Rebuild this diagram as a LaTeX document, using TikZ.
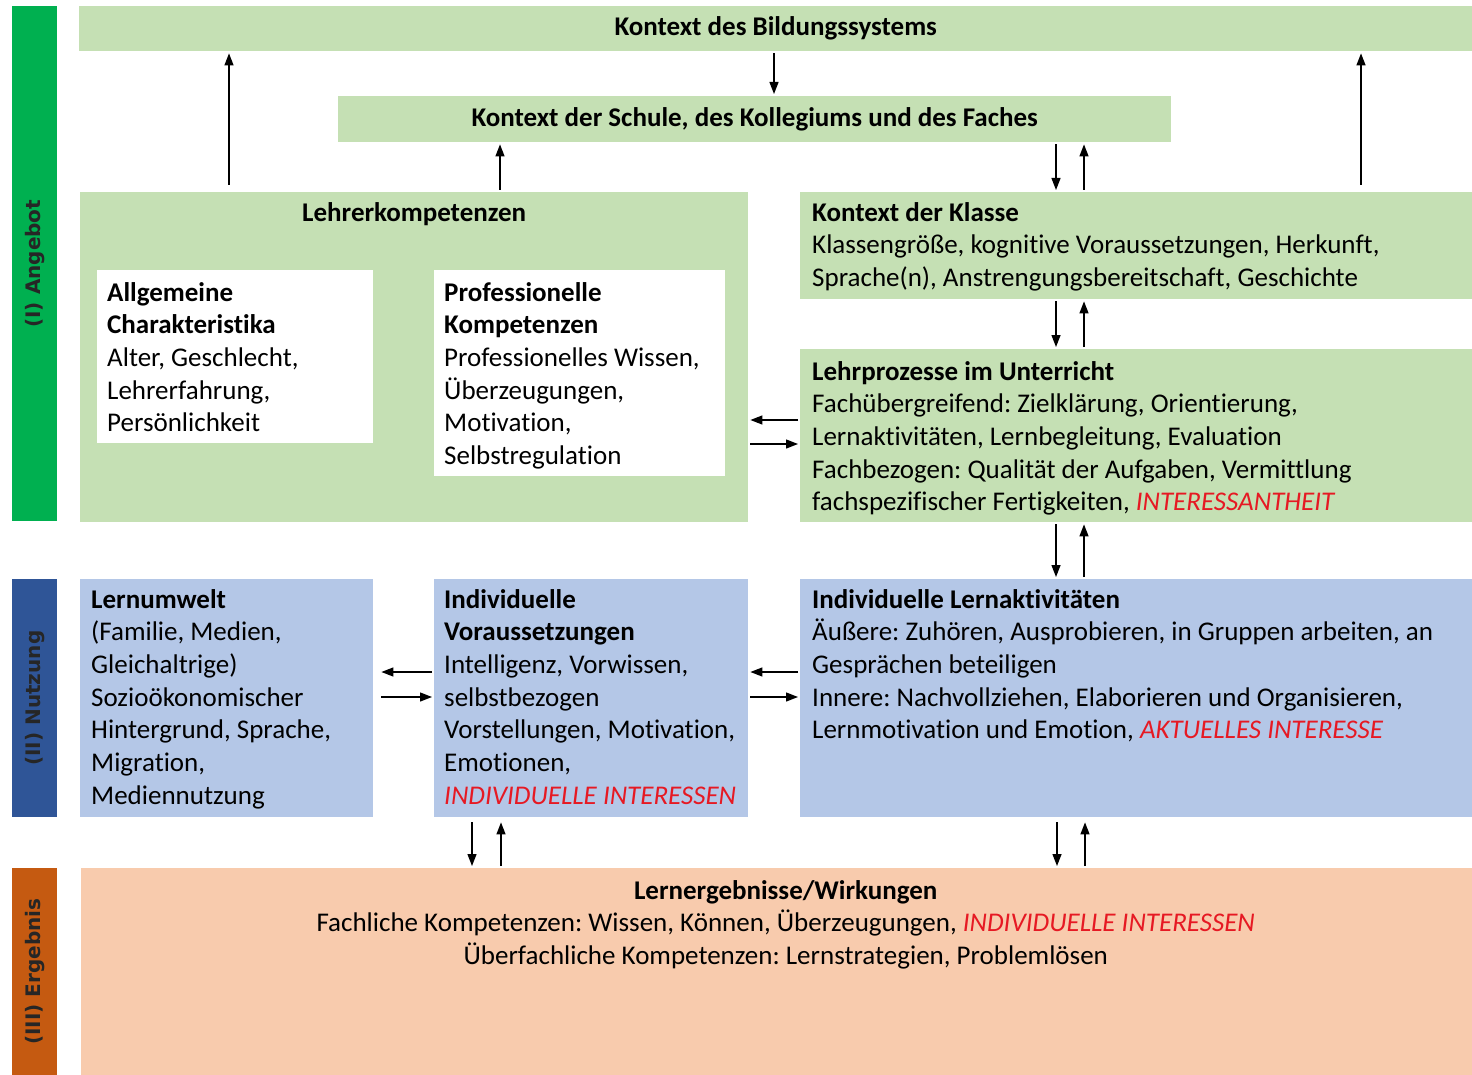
\documentclass[tikz,border=0pt]{standalone}
\usepackage{fontspec}
\setmainfont{Carlito}[Ligatures=NoCommon]
\newfontfamily\sidefont{DejaVu Sans}
\usetikzlibrary{arrows.meta}
\definecolor{lightgreen}{RGB}{197,224,180}
\definecolor{lightblue}{RGB}{180,199,231}
\definecolor{lightpeach}{RGB}{248,203,173}
\definecolor{bargreen}{RGB}{0,176,80}
\definecolor{barblue}{RGB}{47,85,151}
\definecolor{barorange}{RGB}{197,90,17}
\definecolor{accentred}{RGB}{230,25,35}
\newcommand{\redit}[1]{\textcolor{accentred}{\itshape #1}}
\frenchspacing
\tikzset{
    panel/.style={inner sep=0pt, anchor=north west},
    greenpanel/.style={panel, fill=lightgreen},
    bluepanel/.style={panel, fill=lightblue},
    peachpanel/.style={panel, fill=lightpeach},
    whitepanel/.style={panel, fill=white},
    sidebar/.style={panel, minimum width=45pt},
    sidelabel/.style={rotate=90, inner sep=0pt, text=black!85,
        font=\sidefont\bfseries\fontsize{20}{24}\selectfont},
    boxtext/.style={inner sep=0pt, anchor=north west, align=left,
        font=\fontsize{27}{32.7}\selectfont},
    arr/.style={-{Triangle[length=12pt,width=9pt]}, line width=1.3pt,
        shorten >=2pt, shorten <=2pt}
}

\begin{document}
\begin{tikzpicture}[x=1pt, y=-1pt]
    \useasboundingbox[fill=white] (0,0) rectangle (1472,1075);

    % side bars
    \node[sidebar, fill=bargreen, minimum height=515pt] (ANGEBOT) at (12,6) {};
    \node[sidebar, fill=barblue, minimum height=238pt] (NUTZUNG) at (12,579) {};
    \node[sidebar, fill=barorange, minimum height=207pt] (ERGEBNIS) at (12,868) {};
    \node[sidelabel] (ANGEBOTL) at (ANGEBOT.center) {(I) Angebot};
    \node[sidelabel] (NUTZUNGL) at (NUTZUNG.center) {(II) Nutzung};
    \node[sidelabel] (ERGEBNISL) at (ERGEBNIS.center) {(III) Ergebnis};

    % context boxes
    \node[greenpanel, minimum width=1393pt, minimum height=45pt,
        font=\bfseries\fontsize{27}{32.7}\selectfont] (BILDUNG) at (79,6)
        {Kontext des Bildungssystems};
    \node[greenpanel, minimum width=833pt, minimum height=46pt,
        font=\bfseries\fontsize{27}{32.7}\selectfont] (SCHULE) at (338,96)
        {Kontext der Schule, des Kollegiums und des Faches};

    % Angebot
    \node[greenpanel, minimum width=668pt, minimum height=330pt] (LEHRER) at (80,192) {};
    \node[boxtext, anchor=north, font=\bfseries\fontsize{27}{32.7}\selectfont]
        (LEHRERT) at ([yshift=-10pt]LEHRER.north) {Lehrerkompetenzen};
    \node[whitepanel, minimum width=276pt, minimum height=173pt] (ALLG) at (97,270) {};
    \node[boxtext] (ALLGT) at ([shift={(10pt,-12pt)}]ALLG.north west)
        {\textbf{Allgemeine}\\\textbf{Charakteristika}\\Alter, Geschlecht,\\Lehrerfahrung,\\Persönlichkeit};
    \node[whitepanel, minimum width=291pt, minimum height=206pt] (PROF) at (434,270) {};
    \node[boxtext] (PROFT) at ([shift={(10pt,-12pt)}]PROF.north west)
        {\textbf{Professionelle}\\\textbf{Kompetenzen}\\Professionelles Wissen,\\Überzeugungen,\\Motivation,\\Selbstregulation};
    \node[greenpanel, minimum width=672pt, minimum height=107pt] (KLASSE) at (800,192) {};
    \node[boxtext] (KLASSET) at ([shift={(12pt,-10pt)}]KLASSE.north west)
        {\textbf{Kontext der Klasse}\\Klassengröße, kognitive Voraussetzungen, Herkunft,\\Sprache(n), Anstrengungsbereitschaft, Geschichte};
    \node[greenpanel, minimum width=672pt, minimum height=173pt] (LEHRPROZ) at (800,349) {};
    \node[boxtext] (LEHRPROZT) at ([shift={(12pt,-12pt)}]LEHRPROZ.north west)
        {\textbf{Lehrprozesse im Unterricht}\\Fachübergreifend: Zielklärung, Orientierung,\\Lernaktivitäten, Lernbegleitung, Evaluation\\Fachbezogen: Qualität der Aufgaben, Vermittlung\\fachspezifischer Fertigkeiten, \redit{INTERESSANTHEIT}};

    % Nutzung
    \node[bluepanel, minimum width=293pt, minimum height=238pt] (UMWELT) at (80,579) {};
    \node[boxtext] (UMWELTT) at ([shift={(11pt,-10pt)}]UMWELT.north west)
        {\textbf{Lernumwelt}\\(Familie, Medien,\\Gleichaltrige)\\Sozioökonomischer\\Hintergrund, Sprache,\\Migration,\\Mediennutzung};
    \node[bluepanel, minimum width=314pt, minimum height=238pt] (VORAUS) at (434,579) {};
    \node[boxtext] (VORAUST) at ([shift={(10pt,-10pt)}]VORAUS.north west)
        {\textbf{Individuelle}\\\textbf{Voraussetzungen}\\Intelligenz, Vorwissen,\\selbstbezogen\\Vorstellungen, Motivation,\\Emotionen,\\\redit{INDIVIDUELLE INTERESSEN}};
    \node[bluepanel, minimum width=672pt, minimum height=238pt] (LERNAKT) at (800,579) {};
    \node[boxtext] (LERNAKTT) at ([shift={(12pt,-10pt)}]LERNAKT.north west)
        {\textbf{Individuelle Lernaktivitäten}\\Äußere: Zuhören, Ausprobieren, in Gruppen arbeiten, an\\Gesprächen beteiligen\\Innere: Nachvollziehen, Elaborieren und Organisieren,\\Lernmotivation und Emotion, \redit{AKTUELLES INTERESSE}};

    % Ergebnis
    \node[peachpanel, minimum width=1391pt, minimum height=207pt] (WIRKUNG) at (81,868) {};
    \node[boxtext, anchor=north, align=center] (WIRKUNGT) at ([shift={(9pt,-12pt)}]WIRKUNG.north)
        {\textbf{Lernergebnisse/Wirkungen}\\Fachliche Kompetenzen: Wissen, Können, Überzeugungen, \redit{INDIVIDUELLE INTERESSEN}\\Überfachliche Kompetenzen: Lernstrategien, Problemlösen};

    % arrows
    \draw[arr, shorten <=7pt] ([xshift=149pt]LEHRER.north west) -- ([xshift=150pt]BILDUNG.south west);
    \draw[arr] ([xshift=695pt]BILDUNG.south west) -- ([xshift=436pt]SCHULE.north west);
    \draw[arr] ([xshift=420pt]LEHRER.north west) -- ([xshift=162pt]SCHULE.south west);
    \draw[arr] ([xshift=718pt]SCHULE.south west) -- ([xshift=256pt]KLASSE.north west);
    \draw[arr] ([xshift=284pt]KLASSE.north west) -- ([xshift=746pt]SCHULE.south west);
    \draw[arr, shorten <=7pt] ([xshift=561pt]KLASSE.north west) -- ([xshift=1282pt]BILDUNG.south west);
    \draw[arr] ([xshift=256pt]KLASSE.south west) -- ([xshift=256pt]LEHRPROZ.north west);
    \draw[arr] ([xshift=284pt]LEHRPROZ.north west) -- ([xshift=284pt]KLASSE.south west);
    \draw[arr] ([yshift=-71pt]LEHRPROZ.north west) -- ([yshift=-228pt]LEHRER.north east);
    \draw[arr] ([yshift=-252pt]LEHRER.north east) -- ([yshift=-95pt]LEHRPROZ.north west);
    \draw[arr] ([xshift=256pt]LEHRPROZ.south west) -- ([xshift=256pt]LERNAKT.north west);
    \draw[arr] ([xshift=284pt]LERNAKT.north west) -- ([xshift=284pt]LEHRPROZ.south west);
    \draw[arr, shorten >=8pt] ([yshift=-93pt]VORAUS.north west) -- ([yshift=-93pt]UMWELT.north east);
    \draw[arr, shorten <=8pt] ([yshift=-118pt]UMWELT.north east) -- ([yshift=-118pt]VORAUS.north west);
    \draw[arr] ([yshift=-93pt]LERNAKT.north west) -- ([yshift=-93pt]VORAUS.north east);
    \draw[arr] ([yshift=-118pt]VORAUS.north east) -- ([yshift=-118pt]LERNAKT.north west);
    \draw[arr, shorten <=5pt] ([xshift=38pt]VORAUS.south west) -- ([xshift=391pt]WIRKUNG.north west);
    \draw[arr, shorten >=5pt] ([xshift=420pt]WIRKUNG.north west) -- ([xshift=67pt]VORAUS.south west);
    \draw[arr, shorten <=5pt] ([xshift=257pt]LERNAKT.south west) -- ([xshift=976pt]WIRKUNG.north west);
    \draw[arr, shorten >=5pt] ([xshift=1004pt]WIRKUNG.north west) -- ([xshift=285pt]LERNAKT.south west);

    %\draw[help lines, step=50] (0,0) grid (1472,1075);
\end{tikzpicture}
\end{document}
